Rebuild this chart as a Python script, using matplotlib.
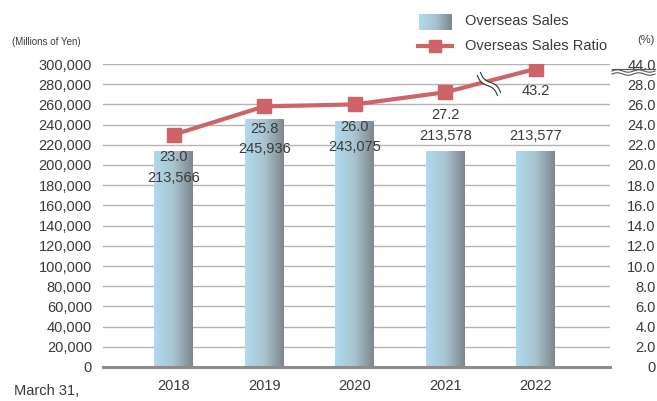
import numpy as np
import matplotlib.pyplot as plt
from matplotlib.lines import Line2D

plt.rcParams["font.family"] = ["Liberation Sans", "DejaVu Sans"]

# Data
years = ["2018", "2019", "2020", "2021", "2022"]
sales = [213566, 245936, 243075, 213578, 213577]
ratio = [23.0, 25.8, 26.0, 27.2, 43.2]

TEXT = "#3a3a3a"
LINE_COLOR = "#cf6468"
GRID = "#b4b4b4"


# right axis is broken above 28.0: the top slot (30) stands for 44.0
def ratio_to_axis(v):
    if v <= 28:
        return v
    return 30 - (44.0 - v) * 0.6


fig = plt.figure(figsize=(6.57, 4.01), dpi=100)
ax = fig.add_axes([103 / 657, 1 - 367 / 401, 507 / 657, 303 / 401])

x = np.arange(len(years))
bars = ax.bar(x, sales, width=0.43, color="none", zorder=3)

# horizontal gradient (light blue -> grey) clipped to each bar
grad = np.linspace(0, 1, 256).reshape(1, -1)
from matplotlib.colors import LinearSegmentedColormap
cmap = LinearSegmentedColormap.from_list("bar", ["#aedbee", "#a9c4d0", "#7d868e"])
for b in bars:
    x0, w, h = b.get_x(), b.get_width(), b.get_height()
    im = ax.imshow(grad, extent=[x0, x0 + w, 0, h], aspect="auto", cmap=cmap,
                   zorder=3, interpolation="bicubic")
    im.set_clip_path(b)

ax.set_xlim(-0.78, 4.82)
ax.set_ylim(0, 300000)
ax.set_yticks(np.arange(0, 300001, 20000))
ax.set_yticklabels([f"{v:,}" for v in range(0, 300001, 20000)])
ax.set_xticks(x)
ax.set_xticklabels(years)
ax.tick_params(length=0, labelsize=10.5, labelcolor=TEXT)
ax.tick_params(axis="y", pad=8)
ax.tick_params(axis="x", pad=9)
for s in ["top", "right", "left"]:
    ax.spines[s].set_visible(False)
ax.spines["bottom"].set_color("#8c8c8c")
ax.spines["bottom"].set_linewidth(2.2)
ax.spines["bottom"].set_zorder(4)
for v in range(20000, 300001, 20000):
    ax.axhline(v, color=GRID, lw=1, zorder=1)

# ratio line on twin axis
ax2 = ax.twinx()
ax2.set_ylim(0, 30)
ax2.set_xlim(ax.get_xlim())
plot_ratio = [ratio_to_axis(v) for v in ratio]
ax2.plot(x, plot_ratio, color=LINE_COLOR, lw=3, marker="s", ms=10,
         markeredgecolor=LINE_COLOR, zorder=5)
rticks = list(np.arange(0, 29, 2)) + [30]
rlabels = ["0"] + [f"{v:.1f}" for v in np.arange(2, 29, 2)] + ["44.0"]
ax2.set_yticks(rticks)
ax2.set_yticklabels(rlabels)
ax2.tick_params(length=0, labelsize=10.5, labelcolor=TEXT, pad=33)
for t in ax2.get_yticklabels():
    t.set_horizontalalignment("right")
for s in ax2.spines.values():
    s.set_visible(False)

# wavy break sign under 44.0
xs = np.linspace(0, 1, 60)
bx = 612 / 657 + xs * 43 / 657
for off in (0, 3):
    by = 1 - (71 + off) / 401 + np.sin(xs * 4 * np.pi) * 1.2 / 401
    fig.add_artist(Line2D(bx, by, color="#555555", lw=0.8))
fig.add_artist(Line2D([612 / 657, 655 / 657], [1 - 69 / 401] * 2, color="#555555", lw=0.8))

# break sign on the line
t = np.linspace(-1, 1, 40)
cx, cy = 489 / 657, 1 - 84 / 401
dx, dy = 10 / 657, -10 / 401
wav = np.sin(t * np.pi) * 2.0
for k, off in enumerate((-2.2, 2.2)):
    lx = cx + t * dx + (wav + off) * 0.7 / 657
    ly = cy + t * dy + (wav + off) * 0.7 / 401
    fig.add_artist(Line2D(lx, ly, color="#333333", lw=0.8, zorder=10))
fig.add_artist(Line2D(cx + t * dx + wav * 0.7 / 657, cy + t * dy + wav * 0.7 / 401,
                      color="white", lw=2.2, zorder=9))

# data labels
lab_kw = dict(ha="center", va="center", fontsize=10.5, color=TEXT, zorder=6)
for i in range(len(years)):
    ax2.annotate(f"{ratio[i]:.1f}", (x[i], plot_ratio[i]), xytext=(0, -16),
                 textcoords="offset points", **lab_kw)
    if sales[i] > 240000 or i == 0:
        ax2.annotate(f"{sales[i]:,}", (x[i], plot_ratio[i]), xytext=(0, -31),
                     textcoords="offset points", **lab_kw)
    else:
        ax.annotate(f"{sales[i]:,}", (x[i], sales[i]), xytext=(0, 11),
                    textcoords="offset points", **lab_kw)

# legend drawn by hand
lg = fig.add_axes([419 / 657, 1 - 30 / 401, 33 / 657, 16 / 401])
lg.imshow(grad, aspect="auto", cmap=cmap, interpolation="bicubic")
lg.axis("off")
fig.text(465 / 657, 1 - 21 / 401, "Overseas Sales", fontsize=10.5, color=TEXT, va="center")
fig.add_artist(Line2D([418 / 657, 452 / 657], [1 - 46 / 401] * 2, color=LINE_COLOR, lw=3))
fig.add_artist(Line2D([435 / 657], [1 - 46 / 401], color=LINE_COLOR, marker="s", ms=9))
fig.text(465 / 657, 1 - 46 / 401, "Overseas Sales Ratio", fontsize=10.5, color=TEXT, va="center")

fig.text(12 / 657, 1 - 42 / 401, "(Millions of Yen)", fontsize=7, color=TEXT, va="center")
fig.text(655 / 657, 1 - 40 / 401, "(%)", fontsize=8, color=TEXT, va="center", ha="right")
fig.text(14 / 657, 1 - 391 / 401, "March 31,", fontsize=10.5, color=TEXT, va="center")

fig.savefig("out.png", dpi=100)
